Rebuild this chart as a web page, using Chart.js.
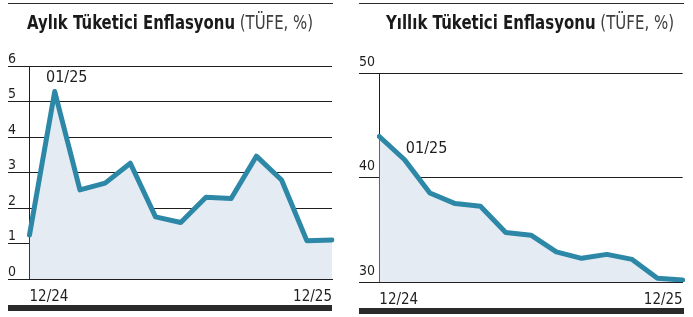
<!DOCTYPE html>
<html>
<head>
<meta charset="utf-8">
<script src="https://cdn.jsdelivr.net/npm/chart.js@4"></script>
<style>
  body { margin: 0; background: #fff; }
  .wrap { position: relative; width: 693px; height: 317px; overflow: hidden; }
  .panel { position: absolute; top: 0; height: 317px; }
  .rule { position: absolute; background: #2a2a2a; }
  .title {
    position: absolute; top: 10px; white-space: nowrap; transform-origin: 0 0;
    font-family: "Liberation Sans Narrow", "DejaVu Sans Condensed", sans-serif;
    font-size: 20px; color: #1a1a1a;
  }
  .title b { font-weight: bold; }
  .title span { color: #3e3e3e; }
</style>
</head>
<body>
<div class="wrap">
  <div class="panel" style="left:0;width:346px"><canvas id="monthlyChart" width="346" height="317"></canvas></div>
  <div class="panel" style="left:346px;width:347px"><canvas id="annualChart" width="347" height="317"></canvas></div>

  <div class="rule" style="left:8px;top:3px;width:325px;height:1px"></div>
  <div class="rule" style="left:359px;top:3px;width:325px;height:1px"></div>
  <div class="rule" style="left:8px;top:305px;width:324px;height:6px"></div>
  <div class="rule" style="left:359px;top:308px;width:325px;height:6px"></div>

  <div class="title" id="t1" data-w="286" style="left:27px"><b>Aylık Tüketici Enflasyonu</b> <span>(TÜFE, %)</span></div>
  <div class="title" id="t2" data-w="288" style="left:386px"><b>Yıllık Tüketici Enflasyonu</b> <span>(TÜFE, %)</span></div>
</div>

<script>
// Data
const months = ["12/24", "01/25", "02/25", "03/25", "04/25", "05/25", "06/25",
  "07/25", "08/25", "09/25", "10/25", "11/25", "12/25"];
const monthlyCpi = [1.04, 5.08, 2.31, 2.50, 3.06, 1.55, 1.39, 2.10, 2.07, 3.26, 2.59, 0.88, 0.90];
const annualCpi = [43.93, 41.71, 38.53, 37.52, 37.27, 34.76, 34.50, 32.91, 32.29, 32.67, 32.19, 30.38, 30.22];
const monthlyTicks = [0, 1, 2, 3, 4, 5, 6];
const annualTicks = [30, 40, 50];
const markedIndex = 1; // "01/25" label on the line

const FONT = "'Liberation Sans Narrow', 'DejaVu Sans Condensed', sans-serif";
const LINE = "#2d88a8";
const FILL = "#e4ebf2";
const INK = "#1e1e1e";

// squeeze the titles to the condensed width of the original
document.querySelectorAll(".title").forEach((el) => {
  const w = el.getBoundingClientRect().width;
  el.style.transform = "scaleX(" + (+el.dataset.w / w) + ")";
});

// draws the month label next to the marked point
const pointLabel = {
  id: "pointLabel",
  afterDatasetsDraw(chart, args, opts) {
    const pt = chart.getDatasetMeta(0).data[markedIndex];
    const ctx = chart.ctx;
    ctx.save();
    ctx.font = "16px " + FONT;
    ctx.fillStyle = INK;
    ctx.textAlign = "center";
    ctx.textBaseline = "middle";
    ctx.fillText(months[markedIndex], pt.x + opts.dx, pt.y + opts.dy);
    ctx.restore();
  },
};

function makeChart(id, values, ticks, cfg) {
  const ctx = document.getElementById(id).getContext("2d");
  return new Chart(ctx, {
    type: "line",
    data: {
      labels: months,
      datasets: [
        {
          data: values,
          borderColor: LINE,
          borderWidth: 5,
          borderJoinStyle: "round",
          borderCapStyle: "round",
          backgroundColor: FILL,
          fill: "start",
          pointRadius: 0,
          tension: 0,
        },
      ],
    },
    options: {
      responsive: false,
      animation: false,
      layout: { padding: cfg.padding },
      plugins: {
        legend: { display: false },
        tooltip: { enabled: false },
        pointLabel: cfg.label,
      },
      scales: {
        x: {
          offset: false,
          grid: { display: false, drawTicks: false },
          border: { color: INK, width: 1 },
          ticks: {
            autoSkip: false,
            maxRotation: 0,
            align: "inner",
            padding: 9,
            color: INK,
            font: { family: FONT, size: 15 },
            callback: (v, i) => (i === 0 || i === months.length - 1 ? months[i] : ""),
          },
          afterFit: (scale) => { scale.height = 30; },
        },
        y: {
          min: ticks[0] - cfg.gridShift,
          max: ticks[ticks.length - 1] - cfg.gridShift,
          afterBuildTicks: (scale) => {
            scale.ticks = ticks.map((v) => ({ value: v - cfg.gridShift }));
          },
          afterFit: (scale) => { scale.width = cfg.axisWidth; },
          grid: { color: INK, lineWidth: 1, tickLength: cfg.axisWidth },
          border: { color: INK, width: 1 },
          ticks: {
            crossAlign: "far",
            labelOffset: cfg.labelOffset,
            color: INK,
            font: { family: FONT, size: 14 },
            callback: (v, i) => String(ticks[i]),
          },
        },
      },
    },
    plugins: [pointLabel],
  });
}

makeChart("monthlyChart", monthlyCpi, monthlyTicks, {
  padding: { left: 8, right: 14, top: 66, bottom: 8 },
  axisWidth: 21.5,
  gridShift: 0.2,
  labelOffset: -7,
  label: { dx: 12, dy: -14 },
});

makeChart("annualChart", annualCpi, annualTicks, {
  padding: { left: 13, right: 10.3, top: 73, bottom: 4.7 },
  axisWidth: 20.3,
  gridShift: 0,
  labelOffset: -11,
  label: { dx: 22, dy: -11 },
});
</script>
</body>
</html>
